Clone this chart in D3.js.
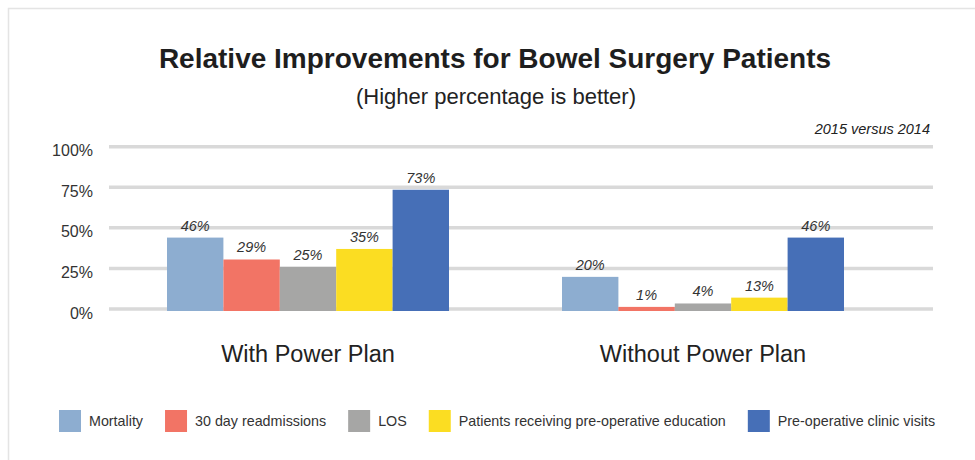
<!DOCTYPE html>
<html>
<head>
<meta charset="utf-8">
<script src="https://cdn.jsdelivr.net/npm/d3@7"></script>
<style>
  html, body { margin: 0; padding: 0; background: #fff; }
  svg { display: block; font-family: "Liberation Sans", Arial, sans-serif; }
</style>
</head>
<body>
<svg id="chart" width="975" height="460"></svg>
<script>
// ---- data ----
const groups = ["With Power Plan", "Without Power Plan"];
const series = ["Mortality", "30 day readmissions", "LOS", "Patients receiving pre-operative education", "Pre-operative clinic visits"];
const withPowerPlan = [0.44, 0.305, 0.26, 0.37, 0.735];      // bar heights as drawn
const withoutPowerPlan = [0.198, 0.013, 0.034, 0.07, 0.44];
const withLabels = ["46%", "29%", "25%", "35%", "73%"];
const withoutLabels = ["20%", "1%", "4%", "13%", "46%"];
const yTicks = [0, 0.25, 0.5, 0.75, 1];
const colors = ["#8DADD0", "#F27465", "#A6A6A5", "#FBDD22", "#466FB7"];

const values = [withPowerPlan, withoutPowerPlan];
const labels = [withLabels, withoutLabels];

const svg = d3.select("#chart");

// frame
svg.append("path")
  .attr("d", "M8.5,460 L8.5,8.5 L975,8.5")
  .attr("fill", "none").attr("stroke", "#e4e4e4").attr("stroke-width", 1.5);

// titles
svg.append("text").attr("x", 495).attr("y", 68).attr("text-anchor", "middle")
  .attr("font-size", 28).attr("font-weight", "bold").attr("fill", "#1e1e1e")
  .text("Relative Improvements for Bowel Surgery Patients");
svg.append("text").attr("x", 496).attr("y", 104).attr("text-anchor", "middle")
  .attr("font-size", 22).attr("fill", "#222")
  .text("(Higher percentage is better)");
svg.append("text").attr("x", 930).attr("y", 134).attr("text-anchor", "end")
  .attr("font-size", 14.5).attr("font-style", "italic").attr("fill", "#222")
  .text("2015 versus 2014");

// scales
const y = d3.scaleLinear().domain([0, 1]).range([309, 146.7]);
const x0 = d3.scaleBand().domain(groups).range([110.5, 900.5]).padding(0);
const groupWidth = 282;
const x1 = d3.scaleBand().domain(series).range([0, groupWidth]).padding(0);

// gridlines
const gridLeft = 109, gridRight = 933;
svg.append("g").selectAll("line").data(yTicks).join("line")
  .attr("x1", gridLeft).attr("x2", gridRight)
  .attr("y1", d => y(d)).attr("y2", d => y(d))
  .attr("stroke", "#d9d9d9").attr("stroke-width", 3.5);

// y axis labels
const yAxis = d3.axisLeft(y).tickValues(yTicks).tickFormat(d3.format(".0%")).tickSize(0).tickPadding(0);
const yg = svg.append("g").attr("transform", "translate(93,4)").call(yAxis);
yg.select(".domain").remove();
yg.selectAll("text").attr("font-size", 16).attr("fill", "#333")
  .attr("font-family", "'Liberation Sans', Arial, sans-serif");

// bars
const gSel = svg.append("g").selectAll("g").data(groups).join("g")
  .attr("transform", g => `translate(${x0(g) + x0.bandwidth() / 2 - groupWidth / 2},0)`);

gSel.selectAll("rect").data((g, gi) => series.map((s, si) => ({ s, si, v: values[gi][si], l: labels[gi][si] })))
  .join("rect")
  .attr("x", d => x1(d.s))
  .attr("width", x1.bandwidth())
  .attr("y", d => y(d.v))
  .attr("height", d => y(0) + 2 - y(d.v))
  .attr("fill", d => colors[d.si]);

gSel.selectAll("text.val").data((g, gi) => series.map((s, si) => ({ s, si, v: values[gi][si], l: labels[gi][si] })))
  .join("text").attr("class", "val")
  .attr("x", d => x1(d.s) + x1.bandwidth() / 2)
  .attr("y", d => y(d.v) - 7)
  .attr("text-anchor", "middle")
  .attr("font-size", 14.5).attr("font-style", "italic").attr("fill", "#333")
  .text(d => d.l);

// category labels
svg.append("g").selectAll("text").data(groups).join("text")
  .attr("x", g => x0(g) + x0.bandwidth() / 2)
  .attr("y", 362)
  .attr("text-anchor", "middle")
  .attr("font-size", 23.5).attr("fill", "#222")
  .text(g => g);

// legend
const legend = svg.append("g");
let lx = 59;
series.forEach((s, i) => {
  legend.append("rect").attr("x", lx).attr("y", 410).attr("width", 22).attr("height", 22).attr("fill", colors[i]);
  const t = legend.append("text").attr("x", lx + 30).attr("y", 426)
    .attr("font-size", 14.3).attr("fill", "#333").text(s);
  lx += 30 + t.node().getComputedTextLength() + 22;
});
</script>
</body>
</html>
